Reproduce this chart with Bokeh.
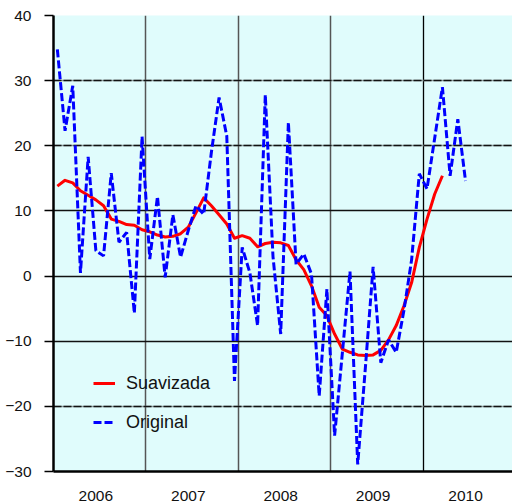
import numpy as np
from bokeh.plotting import figure
from bokeh.models import (ColumnDataSource, FixedTicker, Grid, Legend, LegendItem,
                          Range1d)
from bokeh.embed import file_html
from bokeh.resources import INLINE

years = ["2006", "2007", "2008", "2009", "2010"]
y_ticks = [-30, -20, -10, 0, 10, 20, 30, 40]

original = [34.8, 22.3, 29.2, 0.5, 18.3, 3.9, 3.1, 15.8, 5.2, 6.7, -5.7, 21.4,
            2.6, 12.2, -0.2, 9.4, 2.9, 7.0, 10.8, 9.5, 19.0, 27.4, 21.5, -16.1,
            4.4, 0.5, -7.6, 27.8, 3.0, -8.9, 23.6, 1.8, 3.4, 0.3, -18.4, -2.0,
            -24.5, -11.9, 0.7, -28.9, -14.0, 1.4, -13.3, -9.8, -11.7, -5.3, 2.5, 15.7,
            13.4, 21.2, 29.0, 15.4, 24.1, 14.6]

suavizada = [13.8, 14.7, 14.3, 13.1, 12.4, 11.7, 10.8, 8.75, 8.4, 7.9, 7.8, 7.1,
             6.8, 6.3, 6.0, 6.1, 6.5, 7.5, 9.7, 12.0, 10.8, 9.4, 8.0, 5.8,
             6.2, 5.8, 4.5, 5.0, 5.2, 5.1, 4.7, 2.5, 1.0, -1.5, -4.8, -6.1,
             -8.9, -11.2, -11.7, -12.1, -12.2, -12.1, -11.4, -9.8, -7.6, -4.6, -1.0, 4.4,
             8.75, 12.6, 15.4]

src_o = ColumnDataSource(dict(x=np.arange(len(original)), y=original))
src_s = ColumnDataSource(dict(x=np.arange(len(suavizada)), y=suavizada))

FONT = "Liberation Sans"

p = figure(width=512, height=504, output_backend="svg",
           toolbar_location=None, x_range=Range1d(-0.5, 59.1),
           y_range=Range1d(-30, 40))
p.min_border_left = 53
p.min_border_right = 0
p.min_border_top = 15
p.min_border_bottom = 33
p.background_fill_color = "#E0FCFC"
p.border_fill_color = "white"
p.outline_line_color = None

# axes
p.yaxis.ticker = FixedTicker(ticks=y_ticks)
p.yaxis.major_tick_out = 9
p.yaxis.major_tick_in = 0
p.yaxis.minor_tick_line_color = None
p.yaxis.major_tick_line_color = "black"
p.yaxis.major_tick_line_width = 1.5
p.yaxis.axis_line_color = "black"
p.yaxis.axis_line_width = 2.5
p.yaxis.major_label_standoff = 13
p.yaxis.major_label_text_font = FONT
p.yaxis.major_label_text_font_size = "15.5px"
p.yaxis.major_label_text_color = "#111111"

label_pos = [12 * k + 5 for k in range(len(years))]
p.xaxis.ticker = FixedTicker(ticks=label_pos)
p.xaxis.major_label_overrides = {pos: yr for pos, yr in zip(label_pos, years)}
p.xaxis.major_tick_line_color = None
p.xaxis.minor_tick_line_color = None
p.xaxis.axis_line_color = "black"
p.xaxis.axis_line_width = 2.5
p.xaxis.major_label_standoff = 13
p.xaxis.major_label_text_font = FONT
p.xaxis.major_label_text_font_size = "15.5px"
p.xaxis.major_label_text_color = "#111111"

# grids
p.xgrid.visible = False
p.ygrid.visible = False
bounds = [12 * k - 0.5 for k in range(1, len(years))]
p.add_layout(Grid(dimension=0, ticker=FixedTicker(ticks=bounds[:-1]),
                  grid_line_color="#555555", grid_line_width=1.5))
p.add_layout(Grid(dimension=0, ticker=FixedTicker(ticks=bounds[-1:]),
                  grid_line_color="black", grid_line_width=1.3))
dashed_rows = [40, 30, 20, -20]
solid_rows = [-10, 0, 10]
p.add_layout(Grid(dimension=1, ticker=FixedTicker(ticks=dashed_rows),
                  grid_line_color="#8a9a9a", grid_line_width=1.5))
p.add_layout(Grid(dimension=1, ticker=FixedTicker(ticks=dashed_rows),
                  grid_line_color="#111111", grid_line_width=1.5,
                  grid_line_dash="8 2"))
p.add_layout(Grid(dimension=1, ticker=FixedTicker(ticks=solid_rows),
                  grid_line_color="#111111", grid_line_width=1.3))

r_s = p.line("x", "y", source=src_s, line_color="#FF0000", line_width=3,
             line_join="round")
r_o = p.line("x", "y", source=src_o, line_color="#0000FF", line_width=3,
             line_dash="8 3")

legend = Legend(items=[LegendItem(label="Suavizada", renderers=[r_s]),
                       LegendItem(label="Original", renderers=[r_o])],
                location=(40, 34), padding=0, spacing=9,
                glyph_width=22, glyph_height=30, label_standoff=11,
                label_text_font=FONT, label_text_font_size="18px",
                label_text_color="#111111",
                border_line_alpha=0, background_fill_alpha=0)
p.add_layout(legend, "center")

open("out.html", "w").write(file_html(p, INLINE))
